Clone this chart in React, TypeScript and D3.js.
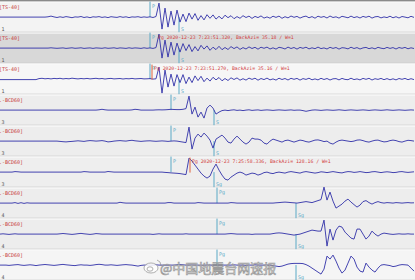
import React from 'react';
import * as d3 from 'd3';

const W = 415;
const H = 280;

// sample interval (s) and time span of the window
const dt = 0.6;
const tSpan = [0, 83];

const stationLabels = ['[TS-40]', '[TS-40]', '[TS-40]', '.-BCD60]', '.-BCD60]', '.-BCD60]', '.-BCD60]', '.-BCD60]', '.-BCD60]'];
const componentLabels = ['1', '1', '1', '3', '3', '3', '4', '4', '4'];

// amplitudes (counts, scaled) per trace, uniform dt
const trace1 = [
  0, 0, 0, 0, 0, 0, 0, 0, 0, 0,
  0, 0, 0, 0, 0, 0, 0.3, 1, 0.2, -0.4,
  0.3, -0.3, 0.5, 0, -0.6, 0.2, 0, 0.6, -0.4, 0.2,
  -0.6, 0.3, 0, 0.5, -0.3, 0.2, -0.5, 0.4, 0, -0.3,
  0.5, -0.2, 0.3, -0.5, 0.2, 0, 0.4, -0.3, 0.2, -0.2,
  0.3, -0.4, 0.6, 14, -12, 9, -10, 6, -8, 7,
  -5, 3, -4.5, 4, -2, 3.5, -3.2, 1.5, -2.8, 2.4,
  -1.2, 2.2, -2, 0.8, -1.8, 1.9, -0.6, 1.4, -1.6, 0.5,
  -1.2, 1.4, -0.4, 1, -1.3, 0.7, -0.5, 1.2, -1, 0.2,
  -1.1, 0.9, -0.3, 1, -1.2, 0.4, -0.8, 1.1, -0.2, 0.7,
  -1, 0.3, 1, -0.7, 0.5, -1.1, 0.9, -0.2, 0.6, -0.9,
  1.1, -0.4, 0.3, -1, 0.8, 0.1, -0.7, 1, -0.5, 0.4,
  -0.9, 0.7, -0.2, 0.9, -1, 0.3, 0.6, -0.8, 0.2, -0.5,
  0.9, -0.7, 0.4, -0.9, 0.6, 0, -0.7, 0.8, -0.3,
];
const trace2 = [
  0, 0, 0, 0, 0, 0, 0, 0, 0, 0,
  0, 0, 0, 0, 0, 0, 0, 0.3, 0, -0.2,
  0, 0.2, -0.3, 0, 0.3, -0.2, 0, 0.3, -0.3, 0,
  0.2, -0.3, 0.2, 0, -0.2, 0.3, -0.2, 0, 0.3, -0.3,
  0.2, 0, -0.3, 0.3, -0.2, 0.2, 0, -0.3, 0.3, -0.2,
  0.2, -0.3, 0.5, 14, -10, 8, -9, 6, -7, 5,
  -4, 4.5, -2.5, 3.5, -3.5, 1.5, -2.8, 2.8, -1, 2.2,
  -2.2, 0.9, -1.5, 1.8, -1.6, 0.6, -1.4, 1.5, -0.5, 1.2,
  -1.3, 0.5, -0.9, 1.2, -0.4, 0.8, -1.1, 0.9, -0.2, 1,
  -0.9, 0.3, -1, 0.8, 0.2, -0.9, 1, -0.4, 0.6, -1,
  0.7, -0.2, 0.9, -0.8, 0.3, -0.6, 1, -0.5, 0.2, -0.9,
  0.8, -0.3, 0.6, -1, 0.4, 0.1, -0.8, 0.9, -0.4, 0.5,
  -0.9, 0.2, 0.7, -0.6, 0.3, -0.8, 0.8, -0.1, -0.6, 0.7,
  -0.3, 0.5, -0.9, 0.6, -0.2, 0.7, -0.7, 0.3, -0.4,
];
const trace3 = [
  -0.5, -0.5, -0.5, -0.5, -0.5, -0.5, -0.5, -0.5, -0.5, -0.5,
  -0.5, -0.5, -0.5, 0.5, 0.8, 0.3, 0.6, 0.2, 0.7, 0.4,
  0.8, 0.2, 0.6, 0.3, 0.9, 0.5, 0.2, 0.6, 0.3, 0.7,
  0.2, 0.5, 0.8, 0.3, 0.6, 0.1, 0.5, 0.7, 0.2, 0.4,
  0.6, 0.1, 0.5, 0.3, 0.7, 0.2, 0.4, 0.6, 0.2, 0.3,
  0.5, 0, 0.3, 12, -14, 9, -8, 5, -7, 4.5,
  -3.5, 4.5, -4.5, 2, -3.5, 3.2, -1.5, 2.8, -2.6, 1,
  -2, 1.8, -0.8, 1.6, -1.7, 0.6, -1.4, 1.3, -0.4, 1.2,
  -1.1, 0.4, -1, 1, -0.3, 0.9, -1.1, 0.6, -0.5, 1,
  -0.8, 0.2, -1, 0.9, -0.4, 0.6, -0.9, 0.8, -0.2, 0.7,
  -1, 0.5, -0.3, 0.9, -0.7, 0.2, -0.8, 0.8, -0.4, 0.6,
  -0.9, 0.3, 0.5, -0.8, 0.7, -0.3, -0.6, 0.9, -0.5, 0.2,
  -0.8, 0.7, -0.2, 0.8, -0.9, 0.4, -0.3, 0.7, -0.6, 0.5,
  -0.7, 0.3, -0.8, 0.6, -0.2, 0.7, -0.6, 0.4, -0.5,
];
const trace4 = [
  0, 0, 0, 0, 0, 0, 0, 0, 0, 0,
  0, 0, 0, 0, 0, 0, 0, 0, 0, 0,
  0, 0, 0, 0, 0, 0, 0, 0, 0, 0,
  0, 0, 0, 0.3, 0.8, 0.3, 0, 0, 0, 0,
  0, 0, 0, 0, 0.2, 0.8, 0.5, 0, 0, 0,
  0, 0, 0.2, 0.3, 0.2, 0.3, 0.5, 0.8, 0.6, 0.5,
  0.5, 0.8, 1.5, 14, -4, 3, -7, -2, -8, 2,
  5, 2, -4, -2, -0.5, 0, -0.5, 0, 0.3, -0.3,
  0, -0.5, 0, 0.3, -0.3, 0, 0.2, -0.3, 0, 0.2,
  0, -0.3, 0, 0.2, 0, -0.2, 0, 0.2, -0.2, 0,
  0, -0.5, -1.2, -0.6, 0, 0.2, 0, -0.3, 0, 0.2,
  0, -0.2, 0, 0.3, 0, -0.3, 0, 0.2, 0, -0.2,
  0, 0.2, 0, -0.3, 0, 0.2, 0, -0.2, 0, 0.3,
  0, -0.2, 0, 0.2, 0, -0.2, 0, 0.2, 0,
];
const trace5 = [
  0, 0, 0, 0, 0, 0, 0, 0, 0, 0,
  0, 0, 0, 0, 0, 0, 0, 0, 0, 0,
  -0.3, -0.6, -0.8, -0.5, -0.3, 0, 0.3, 0, -0.3, 0.2,
  0.5, 0.3, 0, 0.2, 0.5, 0, -0.8, -0.5, 0, 0.3,
  0.5, 0.2, 0, 0.5, 0.8, 0.3, 0, -0.3, 0, 0.2,
  0.3, 0, -0.2, 0, 0.2, 0, -0.3, 0, 0.2, 0,
  -0.5, -1, -1.5, 14, -8, 3, 7, 4, 8, 5,
  1, -7, 2, 4, 6, 3, -1, -2, 2, 5,
  2, -1, -3, -1, 3, 2, 2, 1, -2, -3,
  0, 2, 1, 0, -1, 0.5, 1, 0, -1, 0,
  1, 0.5, -0.5, -1, 0, 1, 1.2, 0.5, -0.5, 0,
  -2, -3, -1, 0.5, 1, 0.5, 0, -0.5, 0, 1,
  1.2, 0.5, -0.5, -1, 0, 0.8, 1, 0, -0.8, -0.5,
  0.5, 1, 0.5, -0.5, -1, 0, 0.8, 0.5, 0,
];
const trace6 = [
  0, 0, 0, 0, 0, 0.5, 0.3, 0, 0, 0,
  0, 0, 0, 0, 0, 0, 0, 0, 0, 0,
  0, 0, 0, 0, 0, 0, 0, 0, 0.5, 0.3,
  0, 0, 0, 0, 0, 0, 0.6, 0.3, 0, 0,
  0, 0, 0, 0, 0, 0, 0, 0, 0, 0,
  0, 0, 0, 0, 0, -0.3, -0.5, -0.8, -1, -1.2,
  -1.5, -2, -2.5, 14, 11, 7, 3, -1, -4, -6,
  -4, 3, 8, 2, -3, -7, -8, -5, -3, -1,
  0, -1, -3, -2, -1, -1.5, -3, -2, -0.5, 0,
  -1, -1.5, -0.5, 0, -0.5, -1, 0, 0.5, 0, -0.5,
  -1, 0, 0.5, 0, -0.5, -1, -0.5, 0.3, 0, -0.5,
  0, 0.5, 0, -0.5, -0.8, 0, 0.5, 0.3, -0.3, 0,
  0.5, 0, -0.5, -0.3, 0.3, 0.5, 0, -0.5, 0, 0.3,
  0, -0.5, -0.3, 0.3, 0.5, 0, -0.3, 0, 0.3,
];
const trace7 = [
  0, 0, 0, 0, 0, 0.5, -0.3, 0.4, -0.3, 0.3,
  0, 0, 0, 0, 0, 0, 0, 0, 0, 0,
  0, 0, 0, 0, 0, 0, 0, 0, 0, 0,
  0, 0, 0, 0, 0, 0, 0, 0, 0, 0,
  0.8, 0.3, 0, 0, 0, 0, 0, 0, 0, 0,
  0, 0, 0, 0, 0, 0, 0.5, 0.5, 0, 0,
  0, 0, 0, 0, 0, 0, 0.5, 0.3, 0, 0,
  0, 0, 0, 0, 0, 0, 0, 0.5, 0.3, 0,
  0, 0, 0, 0, 0, 0, 0, 0, 0, 0,
  0, 0, 0.3, 0.5, 0.8, 1, 0.8, 0.5, 0.3, 0,
  0.5, 1, 1.5, 1, 0.5, 1.5, 2.5, 3.5, 16, 3,
  11, 2, -5, -3, -1, 2, 4, 1, -1.5, -4,
  -2, 1.5, 2.5, 0.5, -1, 0.5, 1.5, 0.5, 0, 0.5,
  0.3, 0, 0.5, 0.3, 0, 0.3, 0.5, 0.2, 0.3,
];
const trace8 = [
  0, 0.3, 0, -0.3, 0, 0.3, 0, 0, 0, 0,
  0, 0, 0, 0, 0, 0, 0, 0, 0, 0,
  0.3, 0.6, 0.3, 0, -0.3, 0, 0.4, 0.7, 0.3, 0,
  -0.3, 0, 0.5, 0.3, 0, 0, 0, 0, 0, 0,
  0, 0, 0, 0, 0, 0, 0, 0, 0, 0,
  0, -0.3, 0, 0.3, 0, 0, 0, 0, 0, 0,
  0, 0, 0.3, 0, 0, 0, 0, 0, 0, 0,
  0, 0, 0, 0, 0, 0, 0.3, 0.5, 0.3, 0,
  0, 0, 0, 0, -0.3, 0, 0, 0, 0, 0,
  0, 0.5, 1, 1.2, 1, 0.5, 0, -0.5, -1, -0.5,
  0, 1, 2, 3, 4, 3.5, 3, 3, 14, -12,
  5, -6, 4, 8, 7, 2, -1, -4, -5, 5,
  5, 0, -5, -2, 3, 0, -2, 0, 1, 0.5,
  0, -0.3, 0, 0.3, 0, 0, 0.3, 0, 0,
];
const trace9 = [
  0, 0, 0, -0.3, 0, 0.3, 0.5, 0, -0.3, 0,
  0.3, 0, -0.5, 0, 0.3, 0.6, 0.3, 0, -0.3, 0,
  0.4, 0.7, 0.3, 0, -0.3, -0.5, 0, 0.3, 0, 0,
  -0.3, 0, 0.5, 0.8, 0.5, 0, 0, 0.3, 0, -0.3,
  0, 0.3, 0.5, 0.2, 0, -0.5, -1, -0.3, 0, 0,
  0, 0, 0.3, 0, 0, 0, 0, 0, 0, 0.3,
  0.5, 0.3, 0, 0, 0, 0, 0, -0.3, 0, 0,
  0, 0, 0, 0, 0, 0, 0, 0, 0.3, 0,
  0, 0, -0.3, 0, 0, 0.3, 0, 0, 0, 0,
  0, -0.5, -1, -1.5, -1, 0, 1, 1.5, 1.7, 1.7,
  1.7, 1.5, 0.5, -1, -3, -5, -7, -9, -4, 9,
  6, 10, 4, -3, -8, -5, 2, 9, 6, -2,
  -6, -7, 2, -2, -5, -7, -3, 0, 0.5, 0,
  -0.5, -1.5, -1, 0, 0.5, 0.3, 0, -3, -6,
];
const traces = [trace1, trace2, trace3, trace4, trace5, trace6, trace7, trace8, trace9];

// phase picks (seconds) for each group of three channels
const groupP = [30, 34.2, 43.4];
const groupS = [35.8, 42.8, 59.2];
const pLabels = ['P', 'P', 'Pg'];
const sLabels = [['S', 'S', 'S'], ['S', 'S', 'Sg'], ['Sg', 'Sg', 'Sg']];

// manual picks with annotation text: [panel, time, text, has pick line]
const picks: [number, number, string, boolean][] = [
  [1, 31.2, 'Pg  2020-12-23 7:23:51.320, BackAzi= 35.18 / W=1', false],
  [2, 30.4, 'Pg  2020-12-23 7:23:51.270, BackAzi= 35.16 / W=1', true],
  [5, 38, 'Pg  2020-12-23 7:25:58.336, BackAzi= 128.16 / W=1', true],
];

const panelFills = ['#f3f3f3', '#d8d8d8', '#f6f6f6', '#ededed', '#ededed', '#eeeeee', '#ededed', '#ededed', '#f5f5f5'];

export default function App() {
  const top0 = 1.6;
  const ph = 31;
  const x = d3.scaleLinear().domain(tSpan).range([0, W]);
  const mono = '"DejaVu Sans Mono", "Liberation Mono", monospace';
  const teal = '#5aa9c6';

  return (
    <svg width={W} height={H} style={{ position: 'fixed', left: 0, top: 0, background: '#eeeeee' }}>
      <rect x={0} y={0} width={W} height={2} fill="#8a8a8a" />
      {traces.map((tr, k) => {
        const top = top0 + k * ph;
        const bottom = top + ph;
        const y = d3.scaleLinear().domain([-15.5, 15.5]).range([bottom, top]);
        const line = d3.line<number>().x((_, i) => x(i * dt)).y((v) => y(v));
        const g = Math.floor(k / 3);
        const xp = x(groupP[g]);
        const xs = x(groupS[g]);
        return (
          <g key={k}>
            <rect x={0} y={top} width={W} height={ph} fill={panelFills[k]} />
            <line x1={0} x2={W} y1={top + 0.5} y2={top + 0.5} stroke="#fafafa" strokeWidth={1} />
            <line x1={0} x2={W} y1={bottom - 0.5} y2={bottom - 0.5} stroke="#c9c9c9" strokeWidth={0.8} />
            <text x={-1} y={top + 7} fontFamily={mono} fontSize={5} fill="#c83a3a">{stationLabels[k]}</text>
            <text x={1.5} y={bottom - 2} fontFamily={mono} fontSize={5} fill="#555">{componentLabels[k]}</text>
            {/* P marker */}
            <line x1={xp} x2={xp} y1={top} y2={y(0)} stroke={teal} strokeWidth={1} />
            <text x={xp + 2} y={top + 6} fontFamily={mono} fontSize={5} fill={teal}>{pLabels[g]}</text>
            {/* S marker */}
            <line x1={xs} x2={xs} y1={y(0)} y2={bottom} stroke={teal} strokeWidth={1} />
            <text x={xs + 2} y={bottom - 1.5} fontFamily={mono} fontSize={5} fill={teal}>{sLabels[g][k % 3]}</text>
            <path d={line(tr) || ''} fill="none" stroke="#3030a8" strokeWidth={0.9} strokeLinejoin="round" />
          </g>
        );
      })}
      {picks.map(([k, t, txt, hasLine], i) => {
        const top = top0 + k * ph;
        const xx = x(t);
        return (
          <g key={'pk' + i}>
            {hasLine && <line x1={xx} x2={xx} y1={top + 1} y2={top + 16} stroke="#e0603a" strokeWidth={1} />}
            <text x={xx + 2} y={top + 6} fontFamily={mono} fontSize={4.8} fill="#d23a3a">{txt}</text>
          </g>
        );
      })}
      {/* watermark */}
      <g opacity={0.85}>
        <ellipse cx={151} cy={268} rx={7} ry={5} fill="#ffffff" stroke="#8c8c8c" strokeWidth={0.8} />
        <ellipse cx={150} cy={269} rx={3} ry={2.2} fill="none" stroke="#8c8c8c" strokeWidth={0.8} />
        <path d="M157,260 q4,1 4,6" fill="none" stroke="#8c8c8c" strokeWidth={0.8} />
        <text x={160} y={273} fontFamily={'"Noto Sans CJK SC", sans-serif'} fontSize={13} fill="#ffffff" stroke="#8c8c8c" strokeWidth={0.7}>
          @中国地震台网速报
        </text>
      </g>
    </svg>
  );
}
